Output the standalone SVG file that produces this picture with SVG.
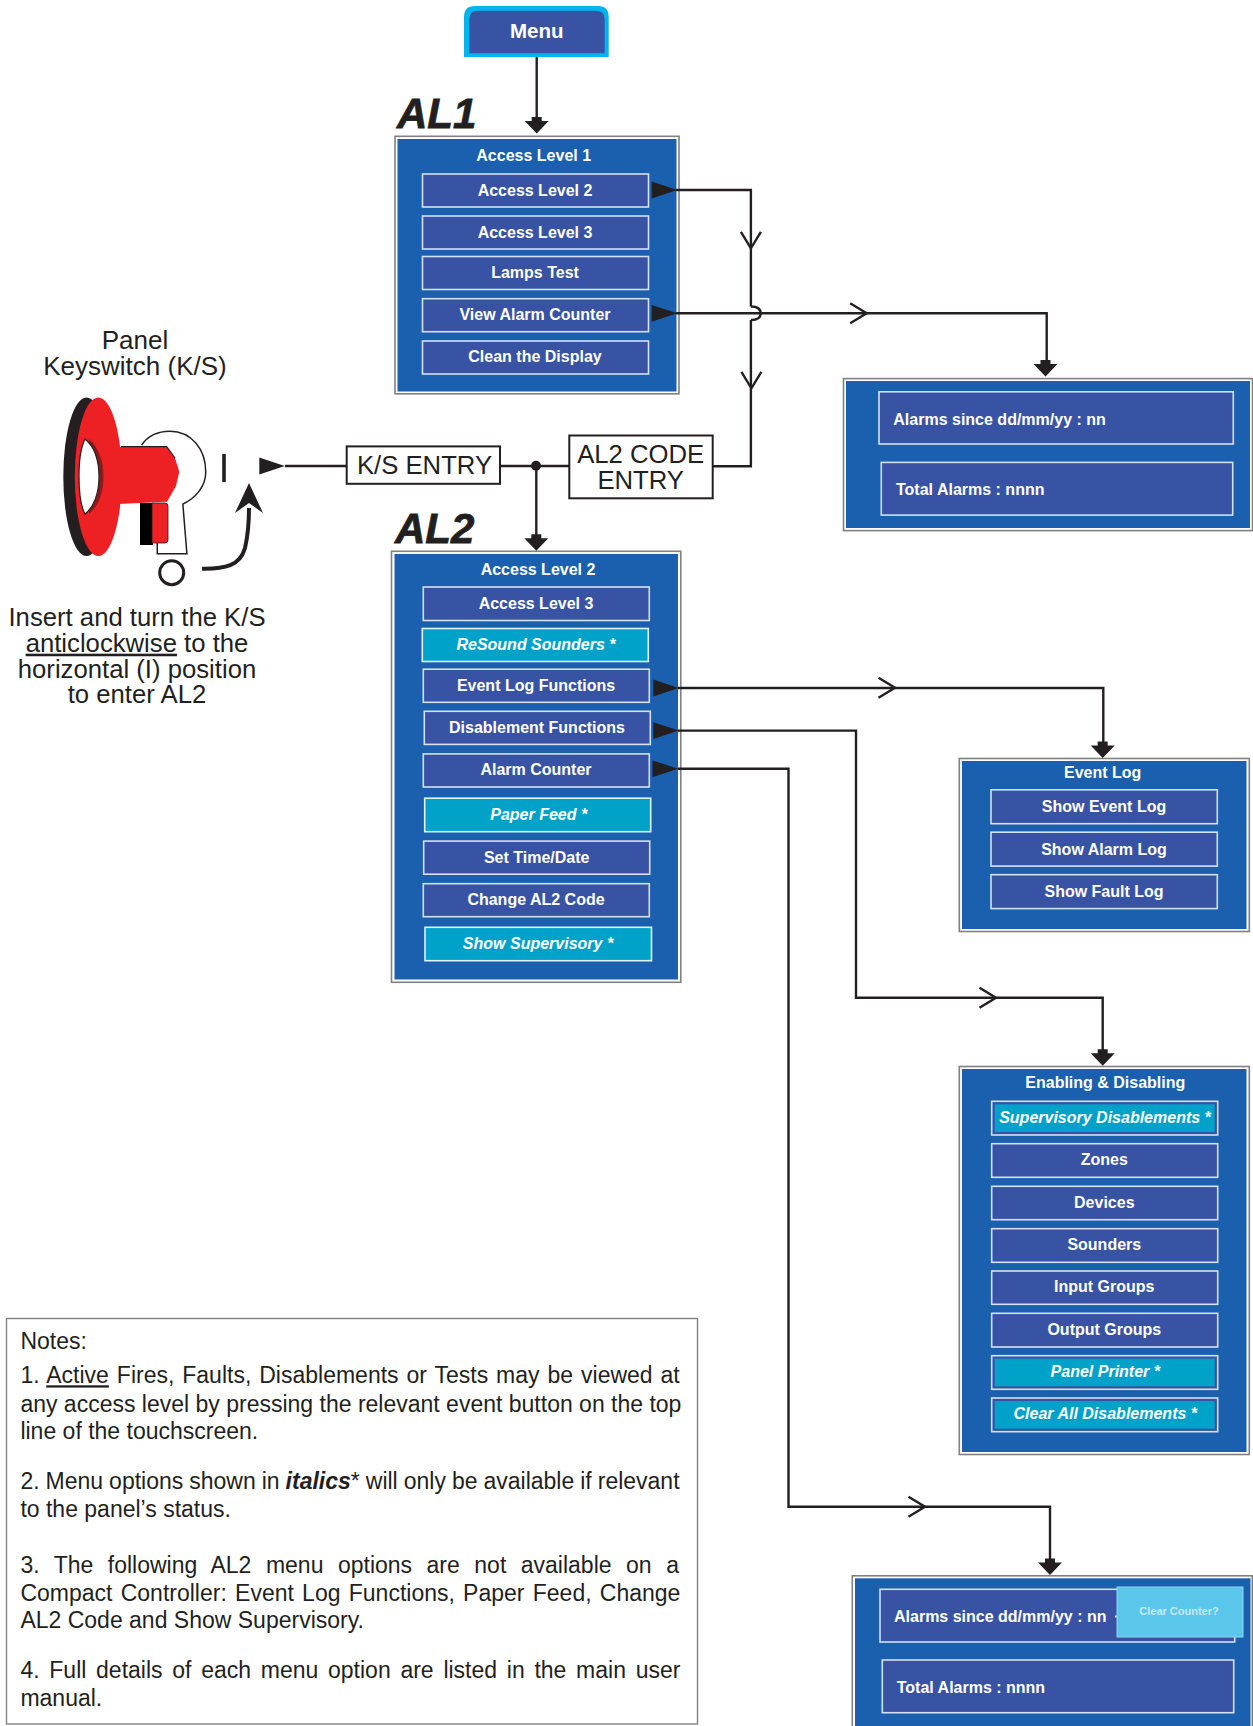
<svg xmlns="http://www.w3.org/2000/svg" xmlns:xlink="http://www.w3.org/1999/xlink" width="1253" height="1726" viewBox="0 0 1253 1726">
<style>
text{font-family:"Liberation Sans",Arial,sans-serif}
.panel{fill:#fff;stroke:#808080;stroke-width:1.6}
.pfill{fill:#1a60ae}
.item{fill:#3953a4;stroke:#d5e0f2;stroke-width:1.6}
.cyan{fill:#00a2c9;stroke:#dff3f9;stroke-width:1.6}
.cyanb{fill:#3953a4;stroke:#d5e0f2;stroke-width:1.6}
.cin{fill:#00a2c9}
.t{font-weight:700;font-size:16px;fill:#fff;text-anchor:middle}
.l{font-weight:700;font-size:16px;fill:#fff}
.i{font-weight:700;font-style:italic;font-size:16px;fill:#fff;text-anchor:middle}
.lv{font-weight:700;font-style:italic;font-size:42px;fill:#231f20;stroke:#231f20;stroke-width:.8}
.box{fill:#fff;stroke:#231f20;stroke-width:2}
.bt{font-size:25.700px;fill:#231f20;text-anchor:middle}
.k{font-size:26px;fill:#231f20;text-anchor:middle}
.k2{font-size:25.700px;fill:#231f20;text-anchor:middle}
.n{font-size:23px;fill:#231f20}
.c{fill:none;stroke:#231f20;stroke-width:2.4}
.h{fill:#231f20}
.o{fill:none;stroke:#231f20;stroke-width:2.4}
</style>
<defs>
<path id="endh" class="h" d="M0,0L-12,-12.500L-5,-12.500L-5,-16.500L5,-16.500L5,-12.500L12,-12.500Z"/>
<path id="starth" class="h" d="M0,-8.400L25.500,0L0,8.400Z"/>
<path id="openh" class="o" d="M-16.500,-10L0,0L-16.500,10"/>
</defs>

<g id="menu">
<path d="M464,57V17Q464,6 475,6H598Q608.700,6 608.700,17V57Z" fill="#00b4ee"/>
<path d="M469.300,53.300V19Q469.300,10.700 478,10.700H595Q604.700,10.700 604.700,19V53.300Z" fill="#3953a4"/>
<text x="536.700" y="37.500" font-size="20.500" font-weight="700" fill="#fff" text-anchor="middle">Menu</text>
</g>

<g id="al1">
<text class="lv" x="397" y="128">AL1</text>
<rect class="panel" x="395" y="136.300" width="284" height="257.500"/>
<rect class="pfill" x="397.500" y="139" width="279" height="252.500"/>
<text class="t" x="533.700" y="161.300">Access Level 1</text>
<rect class="item" x="422.500" y="174" width="226" height="33"/><text class="t" x="535" y="195.700">Access Level 2</text>
<rect class="item" x="422.500" y="216" width="226" height="33"/><text class="t" x="535" y="237.700">Access Level 3</text>
<rect class="item" x="422.500" y="256.500" width="226" height="33"/><text class="t" x="535" y="278">Lamps Test</text>
<rect class="item" x="422.500" y="298.700" width="226" height="33"/><text class="t" x="535" y="320">View Alarm Counter</text>
<rect class="item" x="422.500" y="341" width="226" height="33"/><text class="t" x="535" y="362.300">Clean the Display</text>
</g>

<g id="alarm-counter-1">
<rect class="panel" x="843.500" y="378.600" width="409" height="152"/>
<rect class="pfill" x="846" y="381" width="404" height="147"/>
<rect class="item" x="879" y="391.800" width="354.300" height="52.200"/><text class="l" x="893.300" y="424.900">Alarms since dd/mm/yy : nn</text>
<rect class="item" x="881.300" y="462.400" width="351.400" height="52.700"/><text class="l" x="896" y="495">Total Alarms : nnnn</text>
</g>

<g id="keyswitch">
<text class="k" x="135" y="349">Panel</text>
<text class="k" x="135" y="375">Keyswitch (K/S)</text>
<path d="M143,446C150,436 160,433 170,433C190,433 204,450 204,472C204,485 195,497 181,503L185,552H159V540" fill="#fff" stroke="#231f20" stroke-width="5"/>
<path d="M143,446C150,436 160,433 170,433C190,433 204,450 204,472C204,485 195,497 181,503L185,552H159V540" fill="#fff" stroke="#fff" stroke-width="2"/>
<ellipse cx="86.500" cy="476.700" rx="23.200" ry="79.300" fill="#231f20"/>
<ellipse cx="98.300" cy="476.700" rx="23.500" ry="79.300" fill="#ed2024"/>
<path d="M89,439C99,447 103.500,462 103.500,477C103.500,493 98,507 89,514Z" fill="#8b1a1c"/>
<path d="M85,439C95,447 99,462 99,477C99,493 94,507 85,514C80,505 79,490 79,476C79,460 81,447 85,439Z" fill="#fff" stroke="#231f20" stroke-width="1.200"/>
<path d="M118,447H166.700L175,458L179.300,471.700L176,486L167,501.700L118,504Z" fill="#ed2024"/>
<path d="M121,446.700H166.700L175,458" fill="none" stroke="#231f20" stroke-width="1.200"/>
<path d="M140,503H153V545H140Z" fill="#000"/>
<path d="M152,503H165Q168,503 168,506V540Q168,543 165,543H152Z" fill="#ed2024" stroke="#231f20" stroke-width=".8"/>
<path d="M224,454V482" stroke="#231f20" stroke-width="3.600" fill="none"/>
<circle cx="171.700" cy="572.700" r="12" fill="none" stroke="#231f20" stroke-width="3"/>
<path d="M202,568.700C225,569 240,566 245,548C248,535 249,525 249,508" fill="none" stroke="#231f20" stroke-width="4"/>
<path d="M249,483L263,513L249,503L235,513Z" fill="#231f20"/>
<text class="k2" x="137" y="625.700">Insert and turn the K/S</text>
<text class="k2" x="137" y="651.700"><tspan text-decoration="underline">anticlockwise</tspan> to the</text>
<text class="k2" x="137" y="677.700">horizontal (I) position</text>
<text class="k2" x="137" y="703.300">to enter AL2</text>
</g>

<g id="ks-entry">
<rect class="box" x="346.700" y="446.400" width="153.300" height="37.400"/>
<text class="bt" x="424.500" y="473.500">K/S ENTRY</text>
</g>
<g id="al2-code-entry">
<rect class="box" x="569.300" y="435.500" width="143.400" height="62.800"/>
<text class="bt" x="640.700" y="462.700">AL2 CODE</text>
<text class="bt" x="640.700" y="488.900">ENTRY</text>
</g>

<g id="al2">
<text class="lv" x="395" y="542.700">AL2</text>
<rect class="panel" x="391.500" y="551.300" width="289.300" height="431"/>
<rect class="pfill" x="394.500" y="554" width="283.500" height="425.500"/>
<text class="t" x="538" y="575.400">Access Level 2</text>
<rect class="item" x="423.300" y="587" width="226" height="33.500"/><text class="t" x="536" y="608.800">Access Level 3</text>
<rect class="cyan" x="422.300" y="628.500" width="226" height="33"/><text class="i" x="536" y="650.300">ReSound Sounders *</text>
<rect class="item" x="423.300" y="669.200" width="226" height="33.100"/><text class="t" x="536" y="690.600">Event Log Functions</text>
<rect class="item" x="424.300" y="711.300" width="226" height="33.100"/><text class="t" x="537" y="733.200">Disablement Functions</text>
<rect class="item" x="423.300" y="753.900" width="226" height="33.100"/><text class="t" x="536" y="775.300">Alarm Counter</text>
<rect class="cyan" x="424.700" y="798.200" width="226" height="33.500"/><text class="i" x="538.700" y="820">Paper Feed *</text>
<rect class="item" x="423.700" y="841.100" width="226" height="33.100"/><text class="t" x="536.700" y="862.600">Set Time/Date</text>
<rect class="item" x="423.300" y="883.700" width="226" height="33"/><text class="t" x="536" y="905.100">Change AL2 Code</text>
<rect class="cyan" x="425" y="927.300" width="226.500" height="33.400"/><text class="i" x="538" y="949.100">Show Supervisory *</text>
</g>

<g id="event-log">
<rect class="panel" x="959.300" y="758.500" width="290" height="173"/>
<rect class="pfill" x="962" y="761" width="284.500" height="168"/>
<text class="t" x="1102.700" y="778.400">Event Log</text>
<rect class="item" x="991" y="789.800" width="226.300" height="33.900"/><text class="t" x="1104" y="812.200">Show Event Log</text>
<rect class="item" x="991" y="832.200" width="226.300" height="33.900"/><text class="t" x="1104" y="854.700">Show Alarm Log</text>
<rect class="item" x="991" y="874.700" width="226.300" height="33.900"/><text class="t" x="1104" y="897.100">Show Fault Log</text>
</g>

<g id="enabling-disabling">
<rect class="panel" x="959.300" y="1066.500" width="290" height="388"/>
<rect class="pfill" x="962" y="1069" width="284.500" height="383"/>
<text class="t" x="1105.300" y="1088.300">Enabling &amp; Disabling</text>
<rect class="cyanb" x="991.700" y="1101.300" width="226" height="33.700"/><rect class="cin" x="994.700" y="1104.300" width="220" height="27.700"/><text class="i" x="1105" y="1122.700">Supervisory Disablements *</text>
<rect class="item" x="991.700" y="1143.700" width="226" height="33.600"/><text class="t" x="1104.300" y="1165.300">Zones</text>
<rect class="item" x="991.700" y="1186.300" width="226" height="33.400"/><text class="t" x="1104.300" y="1207.700">Devices</text>
<rect class="item" x="991.700" y="1228.700" width="226" height="33.600"/><text class="t" x="1104.300" y="1250">Sounders</text>
<rect class="item" x="991.700" y="1271" width="226" height="33.300"/><text class="t" x="1104.300" y="1292.300">Input Groups</text>
<rect class="item" x="991.700" y="1313.300" width="226" height="33.700"/><text class="t" x="1104.300" y="1334.700">Output Groups</text>
<rect class="cyanb" x="991.700" y="1355.700" width="226" height="33.600"/><rect class="cin" x="994.700" y="1358.700" width="220" height="27.600"/><text class="i" x="1105.300" y="1377">Panel Printer *</text>
<rect class="cyanb" x="991.700" y="1398" width="226" height="33.700"/><rect class="cin" x="994.700" y="1401" width="220" height="27.700"/><text class="i" x="1105.300" y="1419.300">Clear All Disablements *</text>
</g>

<g id="alarm-counter-2">
<rect class="panel" x="852.300" y="1575.800" width="400" height="160"/>
<rect class="pfill" x="855" y="1578.300" width="395.500" height="150"/>
<rect class="item" x="880" y="1589.300" width="354.700" height="52.700"/><text class="l" x="894" y="1622.300">Alarms since dd/mm/yy : nn</text>
<rect class="item" x="882.300" y="1660" width="351.400" height="52.700"/><text class="l" x="896.700" y="1692.700">Total Alarms : nnnn</text>
<rect x="1115" y="1615.500" width="2" height="2" fill="#d5e0f2"/>
<rect x="1117" y="1587" width="126" height="50" fill="#5ac6ea" stroke="#8fd8ef" stroke-width="1"/>
<text x="1179" y="1615" font-size="11" font-weight="700" fill="#c4ebf7" text-anchor="middle">Clear Counter?</text>
</g>

<g id="notes">
<rect x="6.500" y="1318.500" width="691" height="405.500" fill="#fff" stroke="#808080" stroke-width="1.400"/>
<text class="n" x="20.400" y="1349.300">Notes:</text>
<text class="n" x="20.400" y="1383.300" word-spacing="1.550">1. <tspan text-decoration="underline">Active</tspan> Fires, Faults, Disablements or Tests may be viewed at</text>
<text class="n" x="20.400" y="1411.700">any access level by pressing the relevant event button on the top</text>
<text class="n" x="20.400" y="1439">line of the touchscreen.</text>
<text class="n" x="20.400" y="1489.300" word-spacing="-.4">2. Menu options shown in <tspan font-weight="700" font-style="italic">italics</tspan>* will only be available if relevant</text>
<text class="n" x="20.400" y="1517.300">to the panel’s status.</text>
<text class="n" x="20.400" y="1572.700" word-spacing="8.100">3. The following AL2 menu options are not available on a</text>
<text class="n" x="20.400" y="1600.700" word-spacing="1.870">Compact Controller: Event Log Functions, Paper Feed, Change</text>
<text class="n" x="20.400" y="1628.300">AL2 Code and Show Supervisory.</text>
<text class="n" x="20.400" y="1678.300" word-spacing="3.330">4. Full details of each menu option are listed in the main user</text>
<text class="n" x="20.400" y="1705.700">manual.</text>
</g>

<g id="connectors">
<path class="c" d="M536.700,57V120"/>
<use xlink:href="#endh" href="#endh" x="536.700" y="133.500"/>
<path class="c" d="M676,190H750.900V306.500M750.900,320V466.300H712.700"/>
<use xlink:href="#starth" href="#starth" x="651.700" y="190"/>
<use xlink:href="#openh" href="#openh" transform="translate(750.900,248.300) rotate(90)"/>
<use xlink:href="#openh" href="#openh" transform="translate(751.400,388.300) rotate(90)"/>
<path class="c" d="M676,313.300H1046.700V362"/>
<use xlink:href="#starth" href="#starth" x="651.700" y="313.300"/>
<path class="o" d="M750.900,306.500C758,306.500 760.700,309 760.700,313.300C760.700,317.500 758,320 750.900,320"/>
<use xlink:href="#openh" href="#openh" x="866.700" y="313.300"/>
<use xlink:href="#endh" href="#endh" x="1045.500" y="376.500"/>
<path class="c" d="M285,466H346.700"/>
<use xlink:href="#starth" href="#starth" x="259.300" y="466"/>
<path class="c" d="M500,466H569.300"/>
<circle class="h" cx="536" cy="465.800" r="5"/>
<path class="c" d="M536.300,466V537"/>
<use xlink:href="#endh" href="#endh" x="536.300" y="550.700"/>
<path class="c" d="M678,688H1103.300V745"/>
<use xlink:href="#starth" href="#starth" x="653.300" y="688"/>
<use xlink:href="#openh" href="#openh" x="895" y="687.800"/>
<use xlink:href="#endh" href="#endh" x="1102.700" y="758"/>
<path class="c" d="M678,730.600H856V997.700H1102.700V1052"/>
<use xlink:href="#starth" href="#starth" x="653.300" y="730.600"/>
<use xlink:href="#openh" href="#openh" x="996" y="997.700"/>
<use xlink:href="#endh" href="#endh" x="1102.700" y="1065.700"/>
<path class="c" d="M678,768.800H788.500V1506.700H1050V1562"/>
<use xlink:href="#starth" href="#starth" x="652.500" y="768.800"/>
<use xlink:href="#openh" href="#openh" x="925" y="1506.700"/>
<use xlink:href="#endh" href="#endh" x="1050" y="1575"/>
</g>
</svg>
